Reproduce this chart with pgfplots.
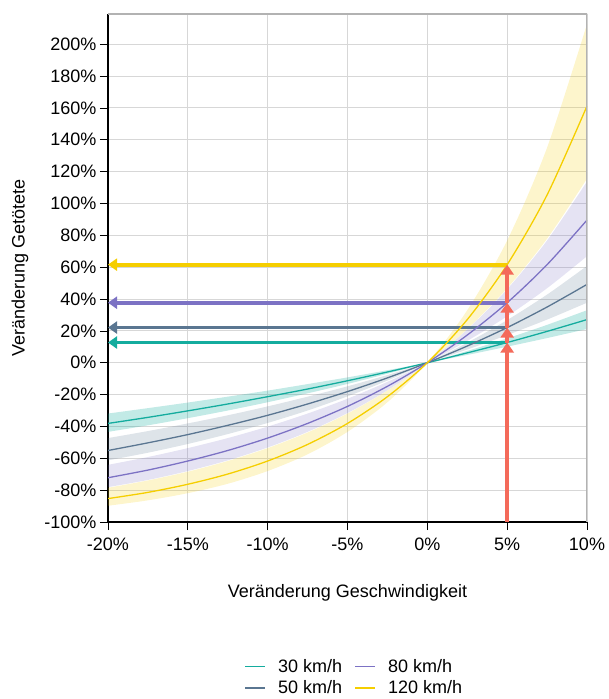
\documentclass[border=0pt]{standalone}
\usepackage{fontspec}
\setmainfont{Liberation Sans}
\usepackage{pgfplots}
\usepackage{pgfplotstable}
\pgfplotsset{compat=1.18}
\usepgfplotslibrary{fillbetween}
\usetikzlibrary{arrows.meta}

\definecolor{cA}{RGB}{20,172,158}   % 30 km/h
\definecolor{cB}{RGB}{90,118,145}   % 50 km/h
\definecolor{cC}{RGB}{124,114,196}  % 80 km/h
\definecolor{cD}{RGB}{245,206,0}    % 120 km/h
\definecolor{cR}{RGB}{244,106,90}
\definecolor{gridc}{RGB}{215,215,215}

% x: change of speed (%), m = estimate, a/b = band edges
\pgfplotstableread{
x     m30   a30   b30   m50   a50   b50   m80   a80   b80   m120  a120  b120
-20   -38.1 -31.9 -43.4 -55.1 -47.3 -61.3 -72.2 -64.1 -78.1 -85.3 -78.5 -89.8
-17.5 -34.3 -28.5 -39.3 -50.3 -42.9 -56.5 -67.4 -59.2 -73.6 -81.4 -73.9 -86.4
-15   -30.2 -25.0 -34.8 -45.1 -38.1 -51.0 -61.7 -53.6 -68.0 -76.3 -68.4 -81.9
-12.5 -25.9 -21.3 -30.0 -39.3 -33.0 -44.8 -55.1 -47.3 -61.3 -69.9 -61.7 -76.0
-10   -21.3 -17.5 -24.8 -33.0 -27.4 -37.8 -47.3 -40.1 -53.2 -61.7 -53.6 -68.0
-7.5  -16.5 -13.4 -19.2 -25.9 -21.3 -30.0 -38.1 -31.9 -43.4 -51.3 -43.8 -57.5
-5    -11.3 -9.2  -13.3 -18.1 -14.8 -21.1 -27.4 -22.6 -31.6 -38.1 -31.9 -43.4
-2.5  -5.8  -4.7  -6.9  -9.5  -7.7  -11.2 -14.8 -12.0 -17.3 -21.3 -17.5 -24.8
0     0     0     0     0     0     0     0     0     0     0     0     0
2.5   6.2   4.9   7.4   10.5  8.3   12.6  17.4  13.7  20.9  27.1  21.2  33.0
5     12.7  10.1  15.3  22.1  17.4  26.8  37.7  29.2  46.2  61.6  46.8  76.8
7.5   19.7  15.5  23.8  35.0  27.1  42.8  61.6  46.8  76.8  105.4 77.9  135.1
10    27.1  21.2  33.0  49.2  37.7  60.8  89.6  66.9  113.8 161.2 115.6 212.7
}\data

\begin{document}
\begin{tikzpicture}[font=\fontsize{18}{22}\selectfont]
\begin{axis}[
  scale only axis,
  width=479pt, height=508pt,
  xmin=-20, xmax=10, ymin=-100, ymax=219,
  xtick={-20,-15,...,10},
  xticklabels={-20\%,-15\%,-10\%,-5\%,0\%,5\%,10\%},
  ytick={-100,-80,...,200},
  yticklabels={-100\%,-80\%,-60\%,-40\%,-20\%,0\%,20\%,40\%,60\%,80\%,100\%,120\%,140\%,160\%,180\%,200\%},
  axis x line*=bottom, axis y line*=left,
  axis line style={black, line width=1.4pt, -},
  tick align=outside, major tick length=8pt,
  tick style={black, line width=0.8pt},
  grid=major, major grid style={gridc, line width=0.9pt},
  tick label style={font=\fontsize{18}{22}\selectfont},
  xticklabel style={yshift=-4pt},
  label style={font=\fontsize{18}{22}\selectfont},
  xlabel={Veränderung Geschwindigkeit},
  ylabel={Veränderung Getötete},
  xlabel style={at={(axis description cs:0.5,-0.14)}, anchor=center},
  ylabel style={at={(axis description cs:-0.184,0.5)}, anchor=center},
  legend style={at={(0.514,-0.262)}, anchor=north, draw=none,
    font=\fontsize{18}{22}\selectfont, legend columns=2,
    /tikz/every odd column/.append style={column sep=10pt},
    /tikz/every even column/.append style={column sep=10pt},
    row sep=3pt},
  legend cell align=left,
  legend image code/.code={\draw[#1, line width=1.8pt] (0pt,0pt) -- (20pt,0pt);},
]
\addlegendimage{cA}
\addlegendimage{cC}
\addlegendimage{cB}
\addlegendimage{cD}
% bands
\addplot[name path=a30, draw=none, smooth, forget plot] table[x=x,y=a30]{\data};
\addplot[name path=b30, draw=none, smooth, forget plot] table[x=x,y=b30]{\data};
\addplot[cA, fill opacity=0.26, forget plot] fill between[of=a30 and b30];
\addplot[name path=a50, draw=none, smooth, forget plot] table[x=x,y=a50]{\data};
\addplot[name path=b50, draw=none, smooth, forget plot] table[x=x,y=b50]{\data};
\addplot[cB, fill opacity=0.2, forget plot] fill between[of=a50 and b50];
\addplot[name path=a80, draw=none, smooth, forget plot] table[x=x,y=a80]{\data};
\addplot[name path=b80, draw=none, smooth, forget plot] table[x=x,y=b80]{\data};
\addplot[cC, fill opacity=0.2, forget plot] fill between[of=a80 and b80];
\addplot[name path=a120, draw=none, smooth, forget plot] table[x=x,y=a120]{\data};
\addplot[name path=b120, draw=none, smooth, forget plot] table[x=x,y=b120]{\data};
\addplot[cD, fill opacity=0.2, forget plot] fill between[of=a120 and b120];
% horizontal arrows at +5 %
\addplot[cD, line width=3.8pt, -{Triangle[length=9pt,width=12pt]}, forget plot] coordinates {(5,61.6) (-20,61.6)};
\addplot[cC, line width=3.8pt, -{Triangle[length=9pt,width=12pt]}, forget plot] coordinates {(5,37.7) (-20,37.7)};
\addplot[cB, line width=3.8pt, -{Triangle[length=9pt,width=12pt]}, forget plot] coordinates {(5,22.1) (-20,22.1)};
\addplot[cA, line width=3.8pt, -{Triangle[length=9pt,width=12pt]}, forget plot] coordinates {(5,12.7) (-20,12.7)};
% curves
\addplot[cA, line width=1.3pt, smooth, forget plot] table[x=x,y=m30]{\data};
\addplot[cB, line width=1.3pt, smooth, forget plot] table[x=x,y=m50]{\data};
\addplot[cC, line width=1.3pt, smooth, forget plot] table[x=x,y=m80]{\data};
\addplot[cD, line width=1.3pt, smooth, forget plot] table[x=x,y=m120]{\data};
% vertical arrow at +5 %
\addplot[cR, line width=4pt, -{Triangle[length=10pt,width=13pt]}, forget plot] coordinates {(5,-100) (5,12.7)};
\addplot[cR, line width=4pt, -{Triangle[length=10pt,width=13pt]}, forget plot] coordinates {(5,12.7) (5,22.1)};
\addplot[cR, line width=4pt, -{Triangle[length=10pt,width=13pt]}, forget plot] coordinates {(5,22.1) (5,37.7)};
\addplot[cR, line width=4pt, -{Triangle[length=10pt,width=13pt]}, forget plot] coordinates {(5,37.7) (5,61.6)};
\draw[gray!60, line width=1.2pt] (rel axis cs:0,1) -- (rel axis cs:1,1) -- (rel axis cs:1,0);
\legend{30 km/h, 80 km/h, 50 km/h, 120 km/h}
\end{axis}
\pgfresetboundingbox
\path[use as bounding box] (-108pt,-177pt) rectangle (500pt,522pt);
\end{tikzpicture}
\end{document}
